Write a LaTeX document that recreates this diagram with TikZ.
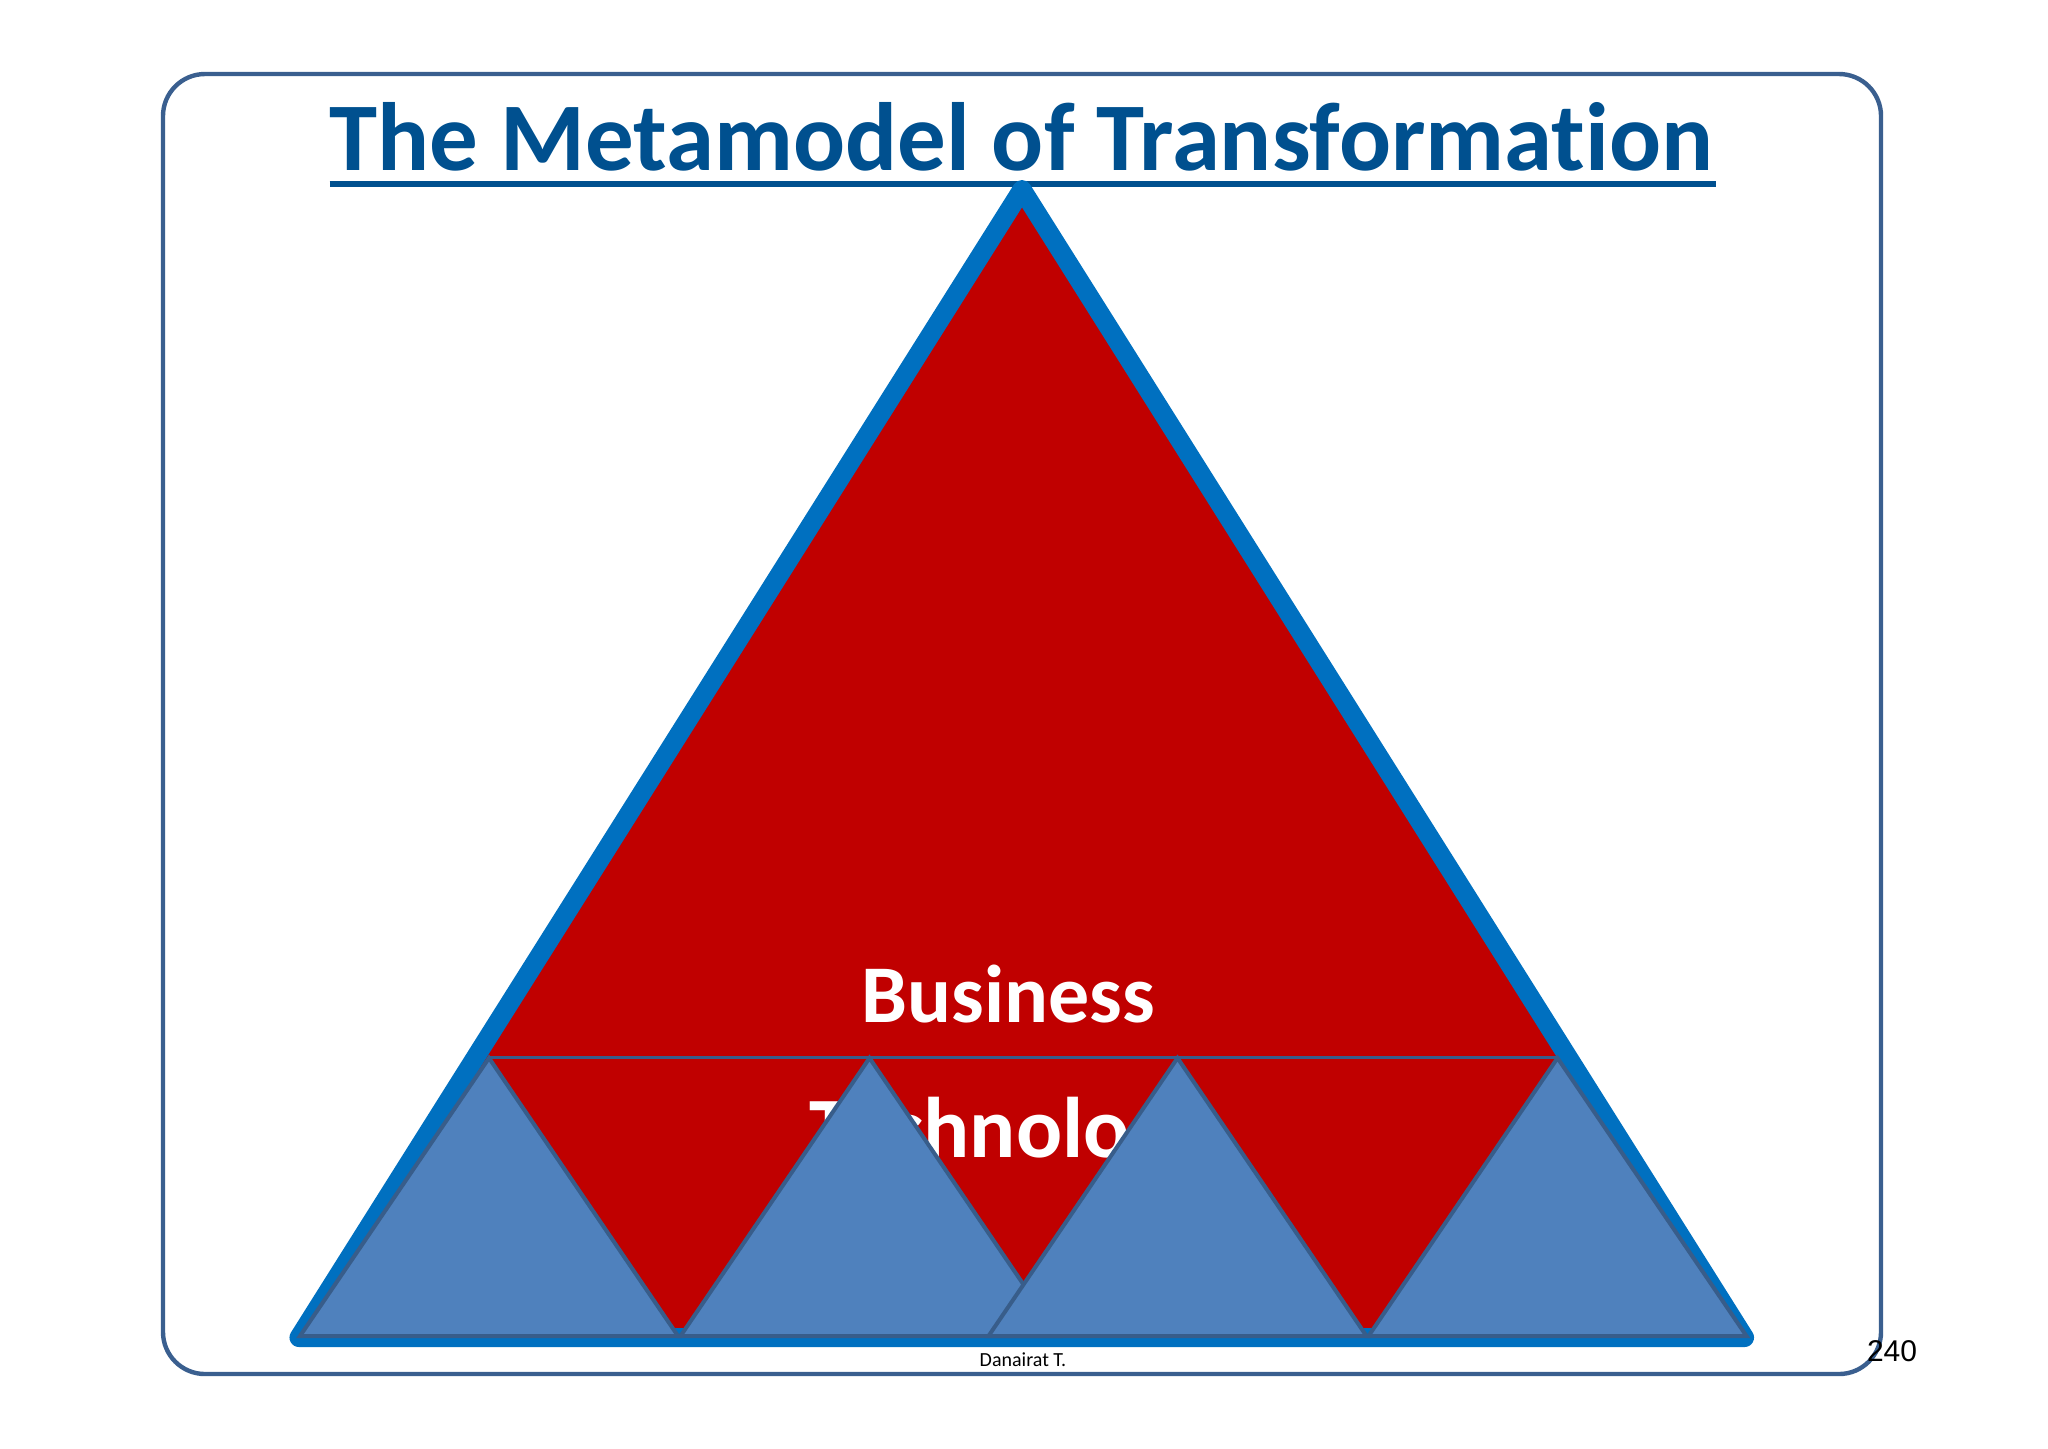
\documentclass[tikz,border=0pt]{standalone}
\usepackage{fontspec}
\setmainfont{Carlito}[Ligatures=NoCommon]
\newfontfamily\pagefont{Liberation Sans}
\definecolor{framecol}{HTML}{3A5F8F}
\definecolor{titlecol}{HTML}{00508F}
\definecolor{bigcol}{HTML}{0070C0}
\definecolor{redcol}{HTML}{C00000}
\definecolor{smallcol}{HTML}{4F81BD}
\definecolor{smalledge}{HTML}{385D8A}
\tikzset{
	smalltri/.style={fill=smallcol,draw=smalledge,line width=2pt,line join=miter},
	bigtext/.style={text=white,font=\fontsize{41pt}{44pt}\bfseries\selectfont}
}

\begin{document}
\begin{tikzpicture}[x=0.5pt,y=-0.5pt]
	\useasboundingbox (0,0) rectangle (2048,1448);

	% Frame and title
		\draw[framecol,line width=2.2pt,rounded corners=21pt] (163,74) rectangle (1881,1374);
		\node[anchor=base,text=titlecol,font=\fontsize{48.5pt}{50pt}\bfseries\selectfont] (title) at (1021.5,170) {The Metamodel of Transformation};
		\draw[titlecol,line width=3.2pt] (329.5,184) -- (1715.5,184);

	% Big triangle
		\coordinate (top) at (1022,189.5);
		\coordinate (left) at (299,1337.5);
		\coordinate (right) at (1744.5,1337.5);
		\fill[redcol] (top) -- (left) -- (right) -- cycle;
		\node[bigtext,anchor=base] (business) at (1008,1022) {Business};
		\node[bigtext,anchor=base west,font=\fontsize{43pt}{46pt}\bfseries\selectfont,inner sep=0pt] (technology) at (809,1157) {Technology};
		\draw[bigcol,line width=9.5pt,line join=round] (top) -- (left) -- (right) -- cycle;
		\draw[smalledge,line width=1.3pt] (489,1057.5) -- (1557,1057.5);

	% Small triangles, the third one over the second
		\filldraw[smalltri] (489,1058) -- (300,1336) -- (678,1336) -- cycle;
		\filldraw[smalltri] (869.5,1058) -- (680.5,1336) -- (1058.5,1336) -- cycle;
		\filldraw[smalltri] (1177.5,1058) -- (988.5,1336) -- (1366.5,1336) -- cycle;
		\filldraw[smalltri] (1557.5,1058) -- (1368.5,1336) -- (1746.5,1336) -- cycle;

	% Footer
		\node[anchor=base,font=\fontsize{10pt}{11pt}\selectfont] (author) at (1023,1366) {Danairat T.};
		\node[anchor=base,font=\pagefont\fontsize{15pt}{16pt}\selectfont] (page) at (1892,1361) {240};
\end{tikzpicture}
\end{document}
